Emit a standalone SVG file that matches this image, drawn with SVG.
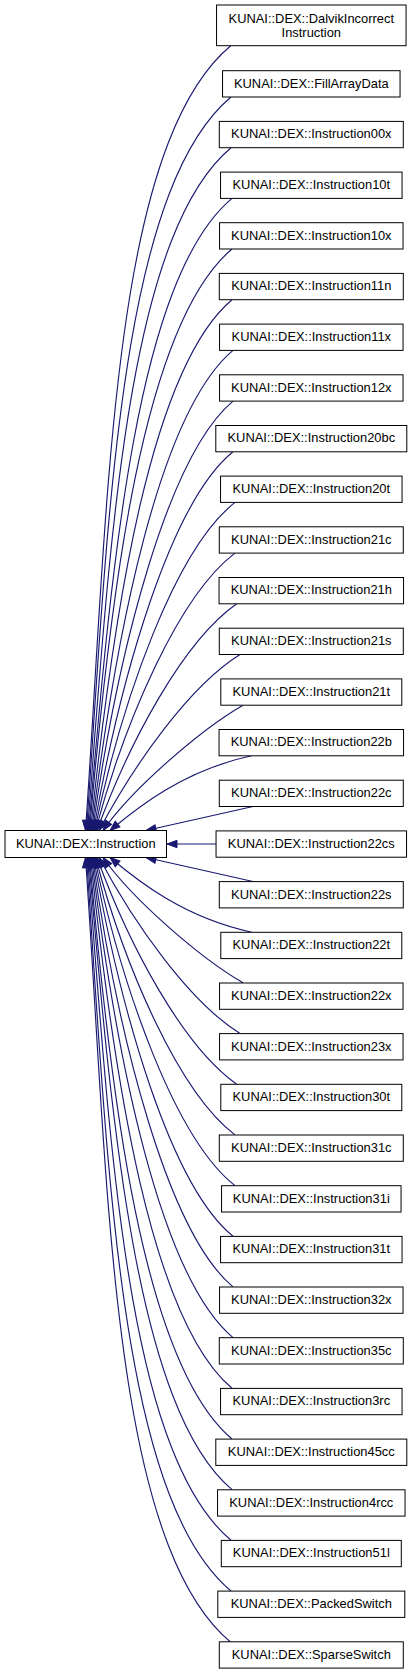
<svg xmlns="http://www.w3.org/2000/svg" width="412" height="1674" viewBox="0 0 412 1674">
<style>
.n rect{fill:#fff;stroke:#000;stroke-width:1}
.n text{font-family:"Liberation Sans",Arial,sans-serif;font-size:12.9px;fill:#000;text-anchor:middle}
.e path{fill:none;stroke:#191970;stroke-width:1.15;marker-end:url(#ah)}
</style>
<defs>
<marker id="ah" markerUnits="userSpaceOnUse" viewBox="0 -5 12 10" refX="10" refY="0" markerWidth="12" markerHeight="10" orient="auto" overflow="visible">
<path d="M0,-3.7 L10,0 L0,3.7 Z" fill="#191970" stroke="#191970" stroke-width="1"/>
</marker>
</defs>
<rect width="412" height="1674" fill="#fff"/>
<g id="edges" class="e">
<path d="M253,806.5 C217.3,814.5 181.7,822.5 146,830.5"/>
<path d="M251.7,755.8 C183.2,770.4 136.8,808 110,830.5"/>
<path d="M243,705.2 C199.7,730.2 131.7,789.5 103,830.5"/>
<path d="M240,654.5 C189.1,686.3 134.2,764.3 99,830.5"/>
<path d="M236.7,603.8 C183.5,641.1 129.5,741.2 97,830.5"/>
<path d="M235,553.1 C179.1,595.2 125.3,719.4 95.5,830.5"/>
<path d="M235,502.4 C175.9,548.6 123.2,695.5 94.5,830.5"/>
<path d="M233,451.8 C170.8,502.1 121.1,673.9 93.5,830.5"/>
<path d="M233,401.1 C167.1,456.4 117.5,652.3 92.5,830.5"/>
<path d="M233,350.4 C159.5,412.1 116.1,630 91.5,830.5"/>
<path d="M232,299.7 C150.8,367.8 113.8,608.7 90.5,830.5"/>
<path d="M232,249 C143.1,323.6 110.8,587.4 89.5,830.5"/>
<path d="M232,198.4 C135.5,279.4 111.6,566.5 88.5,830.5"/>
<path d="M231,147.7 C126.1,235.8 110,544.4 87.5,830.5"/>
<path d="M231,97 C118.4,191.5 108,523.3 86.5,830.5"/>
<path d="M230.7,45.7 C110.4,146.6 108.5,501.3 85.5,830.5"/>
<path d="M216,844 L167,844"/>
<path d="M253,881.5 C217.3,873.5 181.7,865.5 146,857.5"/>
<path d="M251.7,932.2 C183.2,917.6 136.8,880 110,857.5"/>
<path d="M243,982.8 C199.7,957.8 131.7,898.5 103,857.5"/>
<path d="M240,1033.5 C189.1,1001.7 134.2,923.7 99,857.5"/>
<path d="M236.7,1084.2 C183.5,1046.9 129.5,946.8 97,857.5"/>
<path d="M235,1134.9 C179.1,1092.8 125.3,968.6 95.5,857.5"/>
<path d="M235,1185.6 C175.9,1139.4 123.2,992.5 94.5,857.5"/>
<path d="M233,1236.2 C170.8,1185.9 121.1,1014.1 93.5,857.5"/>
<path d="M233,1286.9 C167.1,1231.6 117.5,1035.7 92.5,857.5"/>
<path d="M233,1337.6 C159.5,1275.9 116.1,1058 91.5,857.5"/>
<path d="M232,1388.3 C150.8,1320.2 113.8,1079.3 90.5,857.5"/>
<path d="M232,1439 C143.1,1364.4 110.8,1100.6 89.5,857.5"/>
<path d="M232,1489.6 C135.5,1408.6 111.6,1121.5 88.5,857.5"/>
<path d="M231,1540.3 C126.1,1452.2 110,1143.6 87.5,857.5"/>
<path d="M231,1591 C118.4,1496.5 108,1164.7 86.5,857.5"/>
<path d="M230.7,1642.3 C110.4,1541.4 108.5,1186.7 85.5,857.5"/>
</g>
<g id="Instruction" class="n"><rect x="5" y="830.5" width="161.5" height="27"/><text x="85.75" y="847.6">KUNAI::DEX::Instruction</text></g>
<g id="DalvikIncorrectInstruction" class="n"><rect x="216.55" y="5" width="189.5" height="40.7"/><text x="311.3" y="22.8">KUNAI::DEX::DalvikIncorrect</text><text x="311.3" y="37.4">Instruction</text></g>
<g id="FillArrayData" class="n"><rect x="222.55" y="70.7" width="177.5" height="26.3"/><text x="311.3" y="87.6">KUNAI::DEX::FillArrayData</text></g>
<g id="Instruction00x" class="n"><rect x="219.3" y="121.4" width="184" height="26.3"/><text x="311.3" y="138.3">KUNAI::DEX::Instruction00x</text></g>
<g id="Instruction10t" class="n"><rect x="220.55" y="172.1" width="181.5" height="26.3"/><text x="311.3" y="189">KUNAI::DEX::Instruction10t</text></g>
<g id="Instruction10x" class="n"><rect x="219.55" y="222.7" width="183.5" height="26.3"/><text x="311.3" y="239.6">KUNAI::DEX::Instruction10x</text></g>
<g id="Instruction11n" class="n"><rect x="219.3" y="273.4" width="184" height="26.3"/><text x="311.3" y="290.3">KUNAI::DEX::Instruction11n</text></g>
<g id="Instruction11x" class="n"><rect x="219.55" y="324.1" width="183.5" height="26.3"/><text x="311.3" y="341">KUNAI::DEX::Instruction11x</text></g>
<g id="Instruction12x" class="n"><rect x="219.55" y="374.8" width="183.5" height="26.3"/><text x="311.3" y="391.7">KUNAI::DEX::Instruction12x</text></g>
<g id="Instruction20bc" class="n"><rect x="215.8" y="425.5" width="191" height="26.3"/><text x="311.3" y="442.4">KUNAI::DEX::Instruction20bc</text></g>
<g id="Instruction20t" class="n"><rect x="220.55" y="476.1" width="181.5" height="26.3"/><text x="311.3" y="493">KUNAI::DEX::Instruction20t</text></g>
<g id="Instruction21c" class="n"><rect x="219.3" y="526.8" width="184" height="26.3"/><text x="311.3" y="543.7">KUNAI::DEX::Instruction21c</text></g>
<g id="Instruction21h" class="n"><rect x="219.05" y="577.5" width="184.5" height="26.3"/><text x="311.3" y="594.4">KUNAI::DEX::Instruction21h</text></g>
<g id="Instruction21s" class="n"><rect x="219.3" y="628.2" width="184" height="26.3"/><text x="311.3" y="645.1">KUNAI::DEX::Instruction21s</text></g>
<g id="Instruction21t" class="n"><rect x="220.8" y="678.9" width="181" height="26.3"/><text x="311.3" y="695.8">KUNAI::DEX::Instruction21t</text></g>
<g id="Instruction22b" class="n"><rect x="219.05" y="729.5" width="184.5" height="26.3"/><text x="311.3" y="746.4">KUNAI::DEX::Instruction22b</text></g>
<g id="Instruction22c" class="n"><rect x="219.3" y="780.2" width="184" height="26.3"/><text x="311.3" y="797.1">KUNAI::DEX::Instruction22c</text></g>
<g id="Instruction22cs" class="n"><rect x="216.05" y="830.9" width="190.5" height="26.3"/><text x="311.3" y="847.8">KUNAI::DEX::Instruction22cs</text></g>
<g id="Instruction22s" class="n"><rect x="219.3" y="881.6" width="184" height="26.3"/><text x="311.3" y="898.5">KUNAI::DEX::Instruction22s</text></g>
<g id="Instruction22t" class="n"><rect x="220.8" y="932.3" width="181" height="26.3"/><text x="311.3" y="949.2">KUNAI::DEX::Instruction22t</text></g>
<g id="Instruction22x" class="n"><rect x="219.55" y="983" width="183.5" height="26.3"/><text x="311.3" y="999.9">KUNAI::DEX::Instruction22x</text></g>
<g id="Instruction23x" class="n"><rect x="219.55" y="1033.6" width="183.5" height="26.3"/><text x="311.3" y="1050.5">KUNAI::DEX::Instruction23x</text></g>
<g id="Instruction30t" class="n"><rect x="220.8" y="1084.3" width="181" height="26.3"/><text x="311.3" y="1101.2">KUNAI::DEX::Instruction30t</text></g>
<g id="Instruction31c" class="n"><rect x="219.3" y="1135" width="184" height="26.3"/><text x="311.3" y="1151.9">KUNAI::DEX::Instruction31c</text></g>
<g id="Instruction31i" class="n"><rect x="221.55" y="1185.7" width="179.5" height="26.3"/><text x="311.3" y="1202.6">KUNAI::DEX::Instruction31i</text></g>
<g id="Instruction31t" class="n"><rect x="220.55" y="1236.4" width="181.5" height="26.3"/><text x="311.3" y="1253.3">KUNAI::DEX::Instruction31t</text></g>
<g id="Instruction32x" class="n"><rect x="219.55" y="1287" width="183.5" height="26.3"/><text x="311.3" y="1303.9">KUNAI::DEX::Instruction32x</text></g>
<g id="Instruction35c" class="n"><rect x="219.3" y="1337.7" width="184" height="26.3"/><text x="311.3" y="1354.6">KUNAI::DEX::Instruction35c</text></g>
<g id="Instruction3rc" class="n"><rect x="220.55" y="1388.4" width="181.5" height="26.3"/><text x="311.3" y="1405.3">KUNAI::DEX::Instruction3rc</text></g>
<g id="Instruction45cc" class="n"><rect x="215.8" y="1439.1" width="191" height="26.3"/><text x="311.3" y="1456">KUNAI::DEX::Instruction45cc</text></g>
<g id="Instruction4rcc" class="n"><rect x="217.55" y="1489.8" width="187.5" height="26.3"/><text x="311.3" y="1506.7">KUNAI::DEX::Instruction4rcc</text></g>
<g id="Instruction51l" class="n"><rect x="221.3" y="1540.4" width="180" height="26.3"/><text x="311.3" y="1557.3">KUNAI::DEX::Instruction51l</text></g>
<g id="PackedSwitch" class="n"><rect x="217.8" y="1591.1" width="187" height="26.3"/><text x="311.3" y="1608">KUNAI::DEX::PackedSwitch</text></g>
<g id="SparseSwitch" class="n"><rect x="219.3" y="1641.8" width="184" height="26.3"/><text x="311.3" y="1658.7">KUNAI::DEX::SparseSwitch</text></g>
</svg>
